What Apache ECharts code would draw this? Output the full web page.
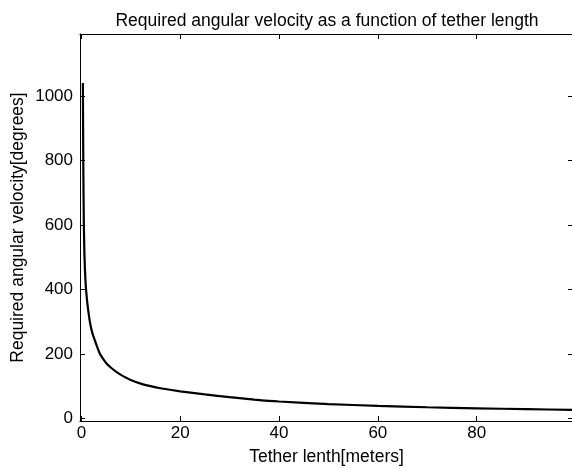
<!DOCTYPE html>
<html>
<head>
<meta charset="utf-8">
<script src="https://cdn.jsdelivr.net/npm/echarts@6/dist/echarts.min.js"></script>
<style>
  html, body { margin: 0; padding: 0; background: #fff; }
  #chart { width: 572px; height: 468px; }
</style>
</head>
<body>
<div id="chart"></div>
<script>
// tether length [m] and required angular velocity [deg]
const tetherLength = [0.3, 0.4, 0.5, 0.6, 0.7, 0.85, 1.0, 1.2, 1.5, 1.8, 2.2, 2.65, 3, 3.67, 4, 5, 6, 7, 8, 10, 12, 14, 16, 20, 25, 30, 35, 40, 50, 60, 70, 80, 90, 99.5];
const angularVelocity = [1040, 760, 600, 520, 470, 420, 390, 358, 322, 293, 266, 245, 230, 203, 194, 172, 157, 145, 135, 119, 108, 100, 93.5, 84, 74.5, 66, 58.5, 52.5, 44.5, 39, 34.6, 31.3, 28.7, 26.4];
const xTicks = [0, 20, 40, 60, 80];
const yTicks = [0, 200, 400, 600, 800, 1000];

const font = "'Liberation Sans', Arial, Helvetica, sans-serif";
const chart = echarts.init(document.getElementById("chart"));

const axisLine = { show: true, onZero: false, lineStyle: { color: "#000", width: 1 } };
const tick = (values) => ({
  show: true,
  inside: true,
  length: 5,
  customValues: values,
  lineStyle: { color: "#000", width: 1 },
});

const option = {
  animation: false,
  backgroundColor: "#fff",
  title: {
    text: "Required angular velocity as a function of tether length",
    left: 322,
    textAlign: "center",
    top: 7,
    textStyle: { fontFamily: font, fontSize: 17.5, fontWeight: "normal", color: "#000" },
  },
  grid: { left: 80, top: 34, width: 493, height: 387, containLabel: false, outerBoundsMode: "none" },
  xAxis: [
    {
      type: "value",
      position: "bottom",
      min: -0.28,
      max: 99.5,
      axisLine,
      axisTick: tick(xTicks),
      axisLabel: { customValues: xTicks, color: "#000", fontFamily: font, fontSize: 17, margin: 4 },
      splitLine: { show: false },
      name: "Tether lenth[meters]",
      nameLocation: "middle",
      nameGap: 27,
      nameMoveOverlap: false,
      nameTextStyle: { color: "#000", fontFamily: font, fontSize: 17.5 },
    },
    {
      type: "value",
      position: "top",
      min: -0.28,
      max: 99.5,
      axisLine,
      axisTick: tick(xTicks),
      axisLabel: { show: false },
      splitLine: { show: false },
    },
  ],
  yAxis: [
    {
      type: "value",
      position: "left",
      min: -8,
      max: 1192,
      axisLine,
      axisTick: tick(yTicks),
      axisLabel: {
        customValues: yTicks,
        formatter: (v) => String(v),
        color: "#000",
        fontFamily: font,
        fontSize: 17,
        margin: 7,
      },
      splitLine: { show: false },
      name: "Required angular velocity[degrees]",
      nameLocation: "middle",
      nameGap: 53,
      nameMoveOverlap: false,
      nameTextStyle: { color: "#000", fontFamily: font, fontSize: 17.5 },
    },
    {
      type: "value",
      position: "right",
      min: -8,
      max: 1192,
      axisLine,
      axisTick: tick(yTicks),
      axisLabel: { show: false },
      splitLine: { show: false },
    },
  ],
  series: [
    {
      type: "line",
      data: tetherLength.map((x, i) => [x, angularVelocity[i]]),
      showSymbol: false,
      smooth: 0.2,
      lineStyle: { color: "#000", width: 2.2 },
      clip: true,
    },
  ],
};

chart.setOption(option);
</script>
</body>
</html>
